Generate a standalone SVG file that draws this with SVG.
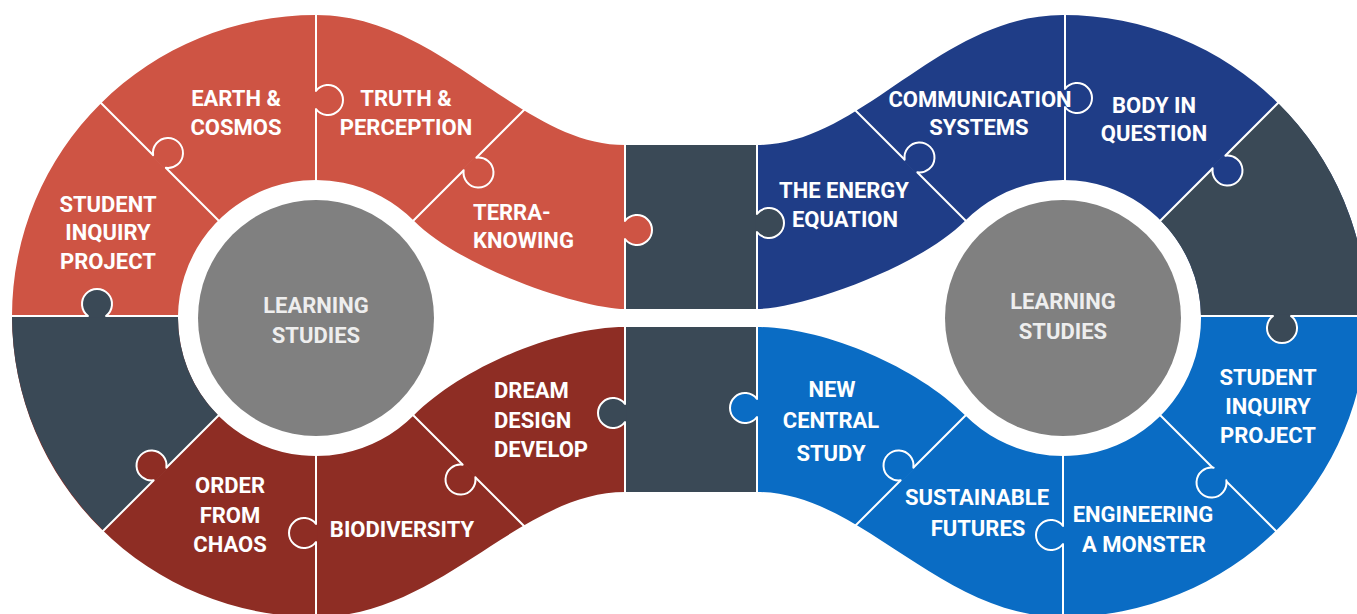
<svg xmlns="http://www.w3.org/2000/svg" width="1357" height="614" viewBox="0 0 1357 614">
<style>
.red{fill:#CE5444}.dred{fill:#8E2D24}.slate{fill:#3A4956}.navy{fill:#1F3D87}.blue{fill:#0A6CC4}
.div{stroke:#fff;stroke-width:2;fill:none;stroke-linecap:round;stroke-linejoin:round}
.t{font-family:Roboto,"Liberation Sans",Arial,sans-serif;font-weight:bold;font-size:22px;fill:#fff;text-anchor:middle}
.ts{text-anchor:start}
.c{fill:#808080}
.lt{fill:#eeeeee}
</style>
<defs>
<path id="tf" d="M-9,0 A15,15 0 1 1 9,0 L9,1.5 L-9,1.5 Z"/>
<path id="tk" d="M-9,0 A15,15 0 1 1 9,0"/>
</defs>
<rect width="1357" height="614" fill="#fff"/>
<g id="bands">
<path class="red" d="M12,316 A304,301 0 0 1 316,15 C440,15 520,145 625,145 L625,309 C585,309 463.6,270.4 413.6,220.4 A138,138 0 0 0 178,316 Z"/>
<path class="dred" d="M12,316 A304,301 0 0 0 316,617 C440,617 520,492 625,492 L625,327 C560,327 463.6,365.6 413.6,415.6 A138,138 0 0 1 178,316 Z"/>
<path class="slate" d="M12,316 A304,301 0 0 0 103.5,530.5 L218.4,415.6 A138,138 0 0 1 178,316 Z"/>
<rect class="slate" x="625" y="145" width="132" height="164"/>
<rect class="slate" x="625" y="327" width="132" height="165"/>
<path class="navy" d="M1367,316 A304,301 0 0 0 1063,15 C939,15 862,145 757,145 L757,309 C797,309 915.4,270.4 965.4,220.4 A138,138 0 0 1 1201,316 Z"/>
<path class="blue" d="M1367,316 A304,301 0 0 1 1063,617 C939,617 862,492 757,492 L757,327 C822,327 915.4,365.6 965.4,415.6 A138,138 0 0 0 1201,316 Z"/>
<path class="slate" d="M1160.6,220.4 L1278,103 A304,301 0 0 1 1367,316 L1201,316 A138,138 0 0 0 1160.6,220.4 Z"/>
</g>
<g id="connectors">
<path class="div" d="M316,5 L316,190 M92,94 L224,226 M408,226 L548,86 M0,316 L182,316 M92,542 L224,410 M316,446 L316,614 M408,410 L548,550 M625,140 L625,497"/>
<path class="div" d="M757,140 L757,497 M836,91 L968,223 M1065,5 L1065,190 M1158,223 L1292,89 M1196,316 L1357,316 M1158,413 L1292,547 M1063,446 L1063,614 M836,545 L968,413"/>
<g id="tabs-fill">
<use href="#tf" class="red" transform="translate(316,100) rotate(90)"/>
<use href="#tf" class="red" transform="translate(159.5,161.5) rotate(45)"/>
<use href="#tf" class="slate" transform="translate(97,316)"/>
<use href="#tf" class="dred" transform="translate(160,474) rotate(-45)"/>
<use href="#tf" class="dred" transform="translate(316,533) rotate(-90)"/>
<use href="#tf" class="dred" transform="translate(469,471) rotate(-135)"/>
<use href="#tf" class="red" transform="translate(470,164) rotate(135)"/>
<use href="#tf" class="red" transform="translate(625,230) rotate(90)"/>
<use href="#tf" class="slate" transform="translate(625,413) rotate(-90)"/>
<use href="#tf" class="slate" transform="translate(757,223) rotate(90)"/>
<use href="#tf" class="navy" transform="translate(911,166) rotate(45)"/>
<use href="#tf" class="navy" transform="translate(1065,98) rotate(90)"/>
<use href="#tf" class="navy" transform="translate(1219,162) rotate(135)"/>
<use href="#tf" class="slate" transform="translate(1282,316) rotate(180)"/>
<use href="#tf" class="blue" transform="translate(1220,474) rotate(-135)"/>
<use href="#tf" class="blue" transform="translate(1063,535) rotate(-90)"/>
<use href="#tf" class="blue" transform="translate(907,474) rotate(-45)"/>
<use href="#tf" class="blue" transform="translate(757,408) rotate(-90)"/>
</g>
<g id="tabs-line" class="div">
<use href="#tk" transform="translate(316,100) rotate(90)"/>
<use href="#tk" transform="translate(159.5,161.5) rotate(45)"/>
<use href="#tk" transform="translate(97,316)"/>
<use href="#tk" transform="translate(160,474) rotate(-45)"/>
<use href="#tk" transform="translate(316,533) rotate(-90)"/>
<use href="#tk" transform="translate(469,471) rotate(-135)"/>
<use href="#tk" transform="translate(470,164) rotate(135)"/>
<use href="#tk" transform="translate(625,230) rotate(90)"/>
<use href="#tk" transform="translate(625,413) rotate(-90)"/>
<use href="#tk" transform="translate(757,223) rotate(90)"/>
<use href="#tk" transform="translate(911,166) rotate(45)"/>
<use href="#tk" transform="translate(1065,98) rotate(90)"/>
<use href="#tk" transform="translate(1219,162) rotate(135)"/>
<use href="#tk" transform="translate(1282,316) rotate(180)"/>
<use href="#tk" transform="translate(1220,474) rotate(-135)"/>
<use href="#tk" transform="translate(1063,535) rotate(-90)"/>
<use href="#tk" transform="translate(907,474) rotate(-45)"/>
<use href="#tk" transform="translate(757,408) rotate(-90)"/>
</g>
</g>
<g id="hub-left"><circle class="c" cx="316" cy="318" r="118"/><text class="t lt" x="316" y="313">LEARNING</text><text class="t lt" x="316" y="343">STUDIES</text></g>
<g id="hub-right"><circle class="c" cx="1063" cy="318" r="118"/><text class="t lt" x="1063" y="309">LEARNING</text><text class="t lt" x="1063" y="339">STUDIES</text></g>
<g id="student-inquiry-left"><text class="t" x="108" y="212">STUDENT</text><text class="t" x="108" y="240">INQUIRY</text><text class="t" x="108" y="269">PROJECT</text></g>
<g id="earth-cosmos"><text class="t" x="236" y="106">EARTH &amp;</text><text class="t" x="236" y="135">COSMOS</text></g>
<g id="truth-perception"><text class="t" x="406" y="106">TRUTH &amp;</text><text class="t" x="406" y="135">PERCEPTION</text></g>
<g id="terra-knowing"><text class="t ts" x="473" y="220">TERRA-</text><text class="t ts" x="473" y="248">KNOWING</text></g>
<g id="dream-design"><text class="t ts" x="494" y="398">DREAM</text><text class="t ts" x="494" y="428">DESIGN</text><text class="t ts" x="494" y="457">DEVELOP</text></g>
<g id="biodiversity"><text class="t" x="402" y="537">BIODIVERSITY</text></g>
<g id="order-chaos"><text class="t" x="230" y="493">ORDER</text><text class="t" x="230" y="523">FROM</text><text class="t" x="230" y="552">CHAOS</text></g>
<g id="energy"><text class="t" x="844" y="198">THE ENERGY</text><text class="t" x="845" y="227">EQUATION</text></g>
<g id="communication"><text class="t" x="980" y="107">COMMUNICATION</text><text class="t" x="979" y="135">SYSTEMS</text></g>
<g id="body"><text class="t" x="1154" y="113">BODY IN</text><text class="t" x="1154" y="141">QUESTION</text></g>
<g id="student-inquiry-right"><text class="t" x="1268" y="385">STUDENT</text><text class="t" x="1268" y="414">INQUIRY</text><text class="t" x="1268" y="443">PROJECT</text></g>
<g id="engineering"><text class="t" x="1143" y="522">ENGINEERING</text><text class="t" x="1144" y="552">A MONSTER</text></g>
<g id="sustainable"><text class="t" x="977" y="505">SUSTAINABLE</text><text class="t" x="978" y="536">FUTURES</text></g>
<g id="new-central"><text class="t" x="832" y="397">NEW</text><text class="t" x="831" y="428">CENTRAL</text><text class="t" x="831" y="461">STUDY</text></g>
</svg>
